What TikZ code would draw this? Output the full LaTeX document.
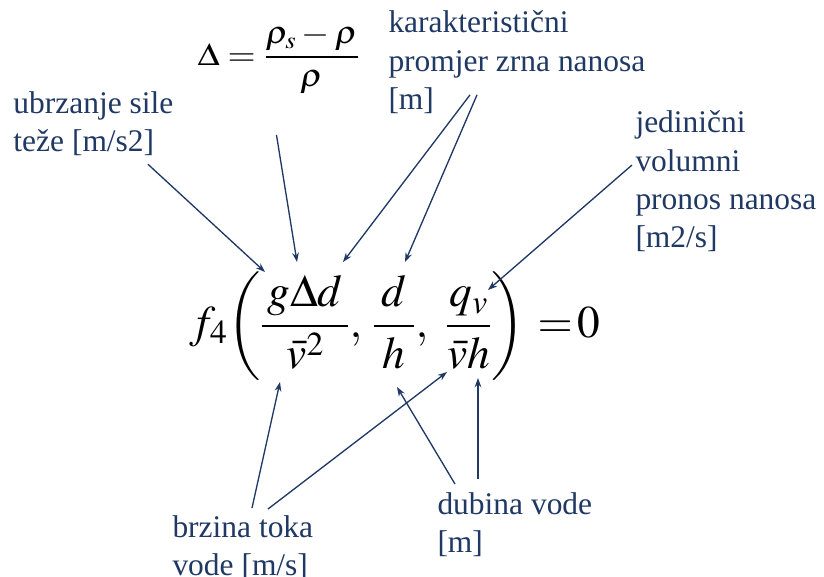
\documentclass[tikz,border=0pt]{standalone}
\usepackage{mathptmx}
\usepackage[no-math]{fontspec}
\usepackage{graphicx}
\setmainfont{Liberation Serif}
\usetikzlibrary{arrows.meta}

\definecolor{labelblue}{RGB}{31,56,100}

\tikzset{every picture/.style={line width=0.75pt}}
\tikzset{
  lbl/.style={anchor=north west, inner sep=0pt, align=left, text=labelblue,
    font=\fontsize{23.6}{28.6}\selectfont},
  arr/.style={draw=labelblue, line width=1pt, -{Stealth[length=7pt,width=5pt]}}
}

\begin{document}
\begin{tikzpicture}[
            x=0.75pt,
            y=0.75pt,
            yscale=-1,
            xscale=1,
            every node/.style={text=black},
            line width=0.75pt
        ]
            \useasboundingbox (0,0) rectangle (824,576);

            % formulas
            \node [anchor=base west, inner sep=0pt, font=\fontsize{24}{29}\selectfont] (ratio) at (197,65)
              {\scalebox{1.13}[1]{$\displaystyle\Delta=\frac{\rho_s-\rho}{\rho}$}};
            \node [anchor=base west, inner sep=0pt, font=\fontsize{34}{40}\selectfont] (eq) at (189,337)
              {$\displaystyle f_4\!\left(\frac{\mkern2mu g\Delta d\mkern2mu}{\bar{v}^2},\mkern2mu
                \frac{\mkern3mu d\mkern3mu}{h},\mkern5mu\frac{q_v}{\bar{v}h}\right)\mkern3mu{=}\mkern2mu0$};

            % labels
            \node [lbl] (grav) at (13,91.5) {ubrzanje sile\\teže [m/s2]};
            \node [lbl] (grain) at (388,10.5) {karakteristični\\promjer zrna nanosa\\{}[m]};
            \node [lbl] (flux) at (635,110.5) {jedinični\\volumni\\pronos nanosa\\{}[m2/s]};
            \node [lbl] (speed) at (172,515) {brzina toka\\vode [m/s]};
            \node [lbl] (depth) at (437,492.5) {dubina vode\\{}[m]};

            % arrow tips on the equation
            \coordinate (gTip) at (265,272);
            \coordinate (deltaTip) at (297,262);
            \coordinate (dTip) at (343,262);
            \coordinate (dhTip) at (405,262);
            \coordinate (qTip) at (488,290);
            \coordinate (vTip) at (280,382);
            \coordinate (vhTip) at (447,372);
            \coordinate (hTip) at (397,387);
            \coordinate (hhTip) at (478,378);

            \draw [arr] ([shift={(-26,7.5)}]grav.south east) -- (gTip);
            \draw [arr] ([shift={(-2,40)}]ratio.south) -- (deltaTip);
            \draw [arr] ([shift={(82,-19)}]grain.south west) -- (dTip);
            \draw [arr] ([shift={(89,-19)}]grain.south west) -- (dhTip);
            \draw [arr] ([shift={(-3,54.5)}]flux.north west) -- (qTip);
            \draw [arr] ([shift={(80,-7)}]speed.north west) -- (vTip);
            \draw [arr] ([shift={(96,-6)}]speed.north west) -- (vhTip);
            \draw [arr] ([shift={(18,-8.5)}]depth.north west) -- (hTip);
            \draw [arr] ([shift={(41,-13.5)}]depth.north west) -- (hhTip);
        \end{tikzpicture}
\end{document}
